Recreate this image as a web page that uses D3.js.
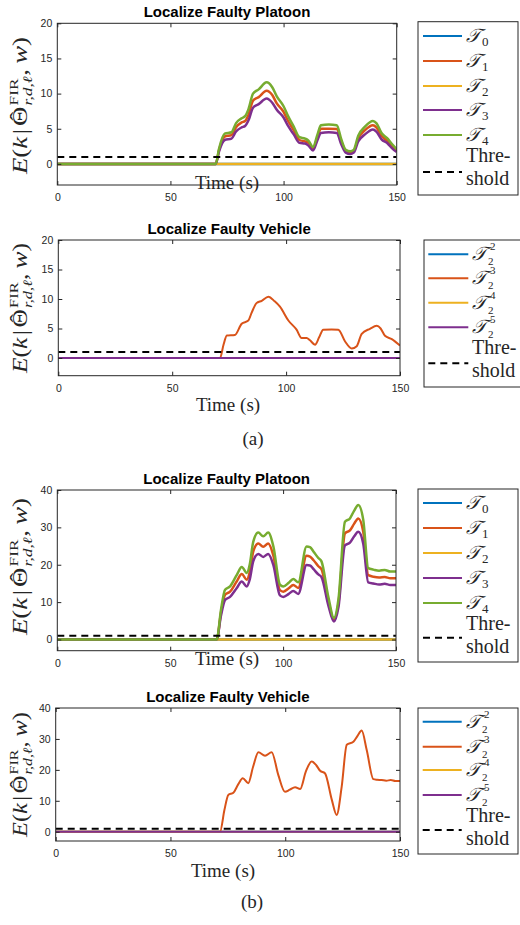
<!DOCTYPE html>
<html>
<head>
<meta charset="utf-8">
<script src="https://cdn.jsdelivr.net/npm/d3@7"></script>
<style>
  body { margin: 0; background: #fff; }
  text { fill: #262626; }
</style>
</head>
<body>
<svg id="fig" width="520" height="925"></svg>
<script>

// ---- data ----
var xTicks = [0, 50, 100, 150];
var yTicksA = [0, 5, 10, 15, 20];
var yTicksB = [0, 10, 20, 30, 40];

var tFlat = [0, 150];
var zeros = [0, 0];
var threshold = [1, 1];

// (a) platoon
var tPlatoonA = [0, 70, 71.5, 74, 77, 79, 81.5, 83, 84.5, 86.5, 89, 92.5, 95, 97, 100, 102, 104.5, 107, 109.5, 111, 113, 115, 116.5, 120, 123.5, 125.5, 127.5, 129.5, 131, 133, 136, 139.5, 141, 143.3, 146, 148, 150];
var T1a = [0, 0, 2.0, 3.9, 4.1, 5.2, 5.9, 6.1, 7.0, 9.0, 9.5, 10.4, 9.8, 8.6, 7.4, 6.1, 4.8, 3.4, 3.2, 3.0, 2.2, 3.8, 5.0, 5.0, 4.95, 3.2, 1.8, 1.6, 1.8, 3.6, 4.8, 5.5, 5.2, 4.0, 3.2, 2.5, 1.9];
var T3a = [0, 0, 1.8, 3.4, 3.6, 4.6, 5.2, 5.4, 6.2, 8.0, 8.5, 9.3, 8.7, 7.7, 6.6, 5.4, 4.2, 3.0, 2.9, 2.6, 1.9, 3.4, 4.4, 4.5, 4.4, 2.8, 1.6, 1.4, 1.6, 3.2, 4.2, 4.9, 4.6, 3.5, 2.9, 2.2, 1.7];
var T4a = [0, 0, 2.2, 4.3, 4.5, 5.8, 6.5, 6.8, 7.8, 10.0, 10.6, 11.6, 10.9, 9.6, 8.2, 6.8, 5.3, 3.8, 3.6, 3.3, 2.4, 4.2, 5.5, 5.6, 5.5, 3.5, 2.0, 1.8, 2.0, 4.0, 5.3, 6.1, 5.8, 4.4, 3.6, 2.8, 2.1];

// (a) vehicle
var tVehicleA = [0, 71, 72.5, 74, 77.5, 80.5, 83.4, 85, 87, 89.3, 92.2, 95, 97.3, 101, 104.6, 106.8, 109, 110.5, 112.7, 114.5, 116.3, 120, 122.9, 125.9, 128.8, 131, 133.2, 136.8, 139.8, 141.5, 143.4, 146.4, 150];
var T23a = [0, 0, 2.2, 3.8, 3.9, 5.8, 6.35, 7.8, 9.3, 9.7, 10.4, 9.6, 8.7, 6.35, 4.8, 3.4, 3.4, 3.0, 2.25, 3.5, 4.8, 4.85, 4.8, 2.8, 1.6, 2.0, 4.1, 4.95, 5.45, 5.0, 3.77, 3.2, 2.1];

// (b) platoon
var tPlatoonB = [0, 70.6, 72.5, 74.3, 76.5, 79.5, 81.7, 83.9, 85.2, 86.8, 89, 91.2, 93.4, 95.7, 98.6, 100.1, 102.5, 104.5, 106.7, 110.4, 111.9, 113.5, 115.6, 117, 120, 122.5, 124.5, 127.4, 129.6, 131.5, 133.3, 135.5, 137.7, 140, 142.5, 145, 147.5, 150];
var T1b = [0, 0, 7.2, 12.0, 12.8, 15.6, 17.5, 16.0, 18.0, 23.6, 25.7, 24.8, 25.7, 22.4, 13.2, 12.8, 13.7, 14.6, 13.8, 22.4, 22.2, 21.2, 19.6, 18.8, 10.4, 5.3, 9.6, 28.4, 29.2, 31.0, 32.4, 28.8, 17.2, 16.8, 16.6, 16.7, 16.4, 16.4];
var T3b = [0, 0, 6.4, 10.6, 11.4, 13.8, 15.5, 14.2, 16.0, 21.0, 22.9, 22.1, 22.9, 19.9, 11.8, 11.4, 12.2, 13.0, 12.2, 19.9, 19.8, 18.8, 17.4, 16.7, 9.2, 4.8, 8.6, 25.2, 25.9, 27.6, 28.8, 25.6, 15.3, 15.0, 14.7, 14.9, 14.6, 14.6];
var T4b = [0, 0, 8, 13.3, 14.2, 17.3, 19.4, 17.8, 20, 26.2, 28.6, 27.6, 28.6, 24.9, 14.7, 14.2, 15.2, 16.2, 15.3, 24.9, 24.7, 23.5, 21.8, 20.9, 11.5, 5.8, 10.7, 31.5, 32.4, 34.5, 36.0, 32, 19.1, 18.7, 18.4, 18.6, 18.2, 18.2];

// (b) vehicle
var tVehicleB = [0, 71.6, 73.5, 75.2, 77.4, 79.5, 81.5, 83.9, 86, 88.3, 91.2, 94.1, 97, 99.9, 102, 104.3, 106.5, 109, 111.5, 113.5, 115.2, 117.3, 120.3, 122.4, 124.6, 126.8, 129.7, 131.5, 133.3, 135.5, 138.4, 140, 142, 144, 146, 148, 150];
var T23b = [0, 0, 7, 11.9, 12.6, 15.3, 17.3, 15.7, 21, 25.7, 24.6, 25.7, 18.3, 12.9, 13.6, 14.4, 13.8, 19.5, 22.7, 21.5, 19.7, 18.9, 10.3, 5.4, 14.6, 28.1, 29.1, 31, 32.7, 26.4, 17, 16.8, 16.7, 16.5, 16.7, 16.4, 16.4];

var platoonSubs = ["0", "1", "2", "3", "4"];
var vehicleSups = ["2", "3", "4", "5"];

var colors = ["#0072BD", "#D95319", "#EDB120", "#7E2F8E", "#77AC30"];
var serif = "'Liberation Serif', 'DejaVu Serif', serif";
var sans = "'Liberation Sans', Arial, sans-serif";

var svg = d3.select("#fig");

function ylabel(cx, cy, len) {
  var g = svg.append("g");
  var inner = g.append("g");
  var x = 0;
  function piece(str, size, y, italic) {
    var t = inner.append("text")
      .attr("x", x).attr("y", y)
      .attr("font-family", serif)
      .attr("font-size", size)
      .attr("font-style", italic ? "italic" : "normal")
      .text(str);
    return t;
  }
  function add(str, size, y, italic) {
    var t = piece(str, size, y, italic);
    x += t.node().getComputedTextLength();
    return t;
  }
  add("E", 20, 0, true);
  add("(", 20, 0, false);
  add("k", 20, 0, true);
  x += 2;
  add("|", 20, 0, false);
  x += 2;
  var th = piece("Θ", 20, 0, false);
  var thw = th.node().getComputedTextLength();
  inner.append("text").attr("x", x + thw / 2).attr("y", -2)
    .attr("text-anchor", "middle").attr("font-family", serif).attr("font-size", 20).text("ˆ");
  x += thw + 1;
  var sup = piece("FIR", 13, -9, false);
  var sub = piece("r,d,ℓ", 13, 5, true);
  x += Math.max(sup.node().getComputedTextLength(), sub.node().getComputedTextLength());
  add(",", 20, 0, false);
  x += 4;
  add("w", 20, 0, true);
  add(")", 20, 0, false);
  var k = len / x;
  inner.attr("transform", "scale(" + k + ",1) translate(" + (-x / 2) + ",0)");
  g.attr("transform", "translate(" + cx + "," + cy + ") rotate(-90)");
}

function legend(L) {
  var g = svg.append("g");
  g.append("rect")
    .attr("x", L.x0).attr("y", L.y0)
    .attr("width", L.x1 - L.x0).attr("height", L.y1 - L.y0)
    .attr("fill", "#fff").attr("stroke", "#262626").attr("stroke-width", 1);
  L.rows.forEach(function (ry, i) {
    g.append("line")
      .attr("x1", L.lx0).attr("x2", L.lx1).attr("y1", ry).attr("y2", ry)
      .attr("stroke", colors[i]).attr("stroke-width", 2);
    var t = g.append("text")
      .attr("x", L.tx).attr("y", ry + 6)
      .attr("font-family", serif).attr("font-size", 19).attr("font-style", "italic")
      .text("𝒯");
    var w = t.node().getComputedTextLength();
    if (L.sups) {
      g.append("text").attr("x", L.tx + w + 3).attr("y", ry - 4)
        .attr("font-family", serif).attr("font-size", 11).text(L.sups[i]);
      g.append("text").attr("x", L.tx + w + 1).attr("y", ry + 11)
        .attr("font-family", serif).attr("font-size", 11).text("2");
    } else {
      g.append("text").attr("x", L.tx + w + 1).attr("y", ry + 10)
        .attr("font-family", serif).attr("font-size", 13).text(L.subs[i]);
    }
  });
  g.append("line")
    .attr("x1", L.lx0).attr("x2", L.lx1).attr("y1", L.dash).attr("y2", L.dash)
    .attr("stroke", "#000").attr("stroke-width", 2).attr("stroke-dasharray", "7,5");
  g.append("text").attr("x", L.tx).attr("y", L.thre[0])
    .attr("font-family", serif).attr("font-size", 20).text("Thre-");
  g.append("text").attr("x", L.tx).attr("y", L.thre[1])
    .attr("font-family", serif).attr("font-size", 20).text("shold");
}

function panel(P) {
  var x = d3.scaleLinear().domain([0, 150]).range([P.left, P.right]);
  var y = d3.scaleLinear().domain(P.yDomain).range([P.bottom, P.top]);
  var line = d3.line()
    .x(function (d) { return x(d[0]); })
    .y(function (d) { return y(d[1]); })
    .curve(d3.curveMonotoneX);

  var clip = "clip" + P.id;
  svg.append("clipPath").attr("id", clip)
    .append("rect").attr("x", P.left).attr("y", P.top)
    .attr("width", P.right - P.left).attr("height", P.bottom - P.top);

  var plot = svg.append("g").attr("clip-path", "url(#" + clip + ")");
  P.series.forEach(function (s) {
    plot.append("path")
      .datum(d3.zip(s.t, s.v))
      .attr("fill", "none")
      .attr("stroke", colors[s.c])
      .attr("stroke-width", P.lw)
      .attr("stroke-linejoin", "round")
      .attr("d", line);
  });
  plot.append("path")
    .datum(d3.zip(tFlat, threshold))
    .attr("fill", "none").attr("stroke", "#000")
    .attr("stroke-width", 2).attr("stroke-dasharray", "7,5")
    .attr("d", line);

  // axes, MATLAB style: box with inward ticks
  var ax = svg.append("g").attr("font-family", sans);
  ax.append("g").attr("transform", "translate(0," + P.bottom + ")")
    .call(d3.axisBottom(x).tickValues(xTicks).tickSizeInner(-4).tickSizeOuter(0).tickPadding(8.5));
  ax.append("g").attr("transform", "translate(0," + P.top + ")")
    .call(d3.axisTop(x).tickValues(xTicks).tickSizeInner(-4).tickSizeOuter(0).tickFormat(""));
  ax.append("g").attr("transform", "translate(" + P.left + ",0)")
    .call(d3.axisLeft(y).tickValues(P.yTicks).tickSizeInner(-4).tickSizeOuter(0).tickPadding(5));
  ax.append("g").attr("transform", "translate(" + P.right + ",0)")
    .call(d3.axisRight(y).tickValues(P.yTicks).tickSizeInner(-4).tickSizeOuter(0).tickFormat(""));
  ax.selectAll(".domain").remove();
  ax.selectAll(".tick line").attr("stroke", "#262626");
  ax.selectAll(".tick text").attr("font-size", 10.5).attr("fill", "#262626");
  ax.append("rect")
    .attr("x", P.left).attr("y", P.top)
    .attr("width", P.right - P.left).attr("height", P.bottom - P.top)
    .attr("fill", "none").attr("stroke", "#262626").attr("stroke-width", 1);

  svg.append("text")
    .attr("x", (P.left + P.right) / 2).attr("y", P.titleY)
    .attr("text-anchor", "middle")
    .attr("font-family", sans).attr("font-weight", "bold").attr("font-size", 15)
    .style("fill", "#000")
    .text(P.title);

  svg.append("text")
    .attr("x", P.xlabX).attr("y", P.xlabY)
    .attr("text-anchor", "middle")
    .attr("font-family", serif).attr("font-size", 19)
    .text("Time (s)");

  ylabel(27, P.ylabC, P.ylabLen);
  legend(P.legend);
}

panel({
  id: 1, left: 57.3, right: 396.7, top: 23.3, bottom: 185,
  yDomain: [-3, 20], yTicks: yTicksA, lw: 2.5,
  title: "Localize Faulty Platoon", titleY: 17,
  xlabX: 227, xlabY: 188.5, ylabC: 105.5, ylabLen: 137,
  series: [
    { t: tFlat, v: zeros, c: 0 },
    { t: tPlatoonA, v: T1a, c: 1 },
    { t: tFlat, v: zeros, c: 2 },
    { t: tPlatoonA, v: T3a, c: 3 },
    { t: tPlatoonA, v: T4a, c: 4 }
  ],
  legend: { x0: 418, x1: 518, y0: 21.7, y1: 195, rows: [36, 61, 86, 110, 135], dash: 172,
    thre: [162, 185], lx0: 423, lx1: 462, tx: 466, subs: platoonSubs }
});

panel({
  id: 2, left: 58.3, right: 400, top: 240, bottom: 375.7,
  yDomain: [-3, 20], yTicks: yTicksA, lw: 2,
  title: "Localize Faulty Vehicle", titleY: 234,
  xlabX: 228, xlabY: 411, ylabC: 308, ylabLen: 130,
  series: [
    { t: tFlat, v: zeros, c: 0 },
    { t: tVehicleA, v: T23a, c: 1 },
    { t: tFlat, v: zeros, c: 2 },
    { t: tFlat, v: zeros, c: 3 }
  ],
  legend: { x0: 424, x1: 523, y0: 240, y1: 387, rows: [254.3, 278.3, 302.7, 327.3], dash: 363.3,
    thre: [354, 377], lx0: 428.3, lx1: 468.3, tx: 472, sups: vehicleSups }
});

panel({
  id: 3, left: 57.3, right: 396, top: 490, bottom: 650.7,
  yDomain: [-3, 40], yTicks: yTicksB, lw: 2.5,
  title: "Localize Faulty Platoon", titleY: 483.5,
  xlabX: 227, xlabY: 665, ylabC: 566.5, ylabLen: 137,
  series: [
    { t: tFlat, v: zeros, c: 0 },
    { t: tPlatoonB, v: T1b, c: 1 },
    { t: tFlat, v: zeros, c: 2 },
    { t: tPlatoonB, v: T3b, c: 3 },
    { t: tPlatoonB, v: T4b, c: 4 }
  ],
  legend: { x0: 418, x1: 518, y0: 489, y1: 662, rows: [503, 528, 553, 578, 603], dash: 637.7,
    thre: [630, 653], lx0: 423, lx1: 462, tx: 466, subs: platoonSubs }
});

panel({
  id: 4, left: 55.7, right: 400, top: 708, bottom: 841,
  yDomain: [-3, 40], yTicks: yTicksB, lw: 2,
  title: "Localize Faulty Vehicle", titleY: 701.5,
  xlabX: 223, xlabY: 876.7, ylabC: 774.5, ylabLen: 125,
  series: [
    { t: tFlat, v: zeros, c: 0 },
    { t: tVehicleB, v: T23b, c: 1 },
    { t: tFlat, v: zeros, c: 2 },
    { t: tFlat, v: zeros, c: 3 }
  ],
  legend: { x0: 418, x1: 518, y0: 708, y1: 854, rows: [721.7, 746.7, 770, 795], dash: 830,
    thre: [821.7, 845], lx0: 422.7, lx1: 461.7, tx: 466, sups: vehicleSups }
});

svg.append("text").attr("x", 253).attr("y", 445).attr("text-anchor", "middle")
  .attr("font-family", serif).attr("font-size", 19).text("(a)");
svg.append("text").attr("x", 252).attr("y", 908).attr("text-anchor", "middle")
  .attr("font-family", serif).attr("font-size", 19).text("(b)");

</script>
</body>
</html>
